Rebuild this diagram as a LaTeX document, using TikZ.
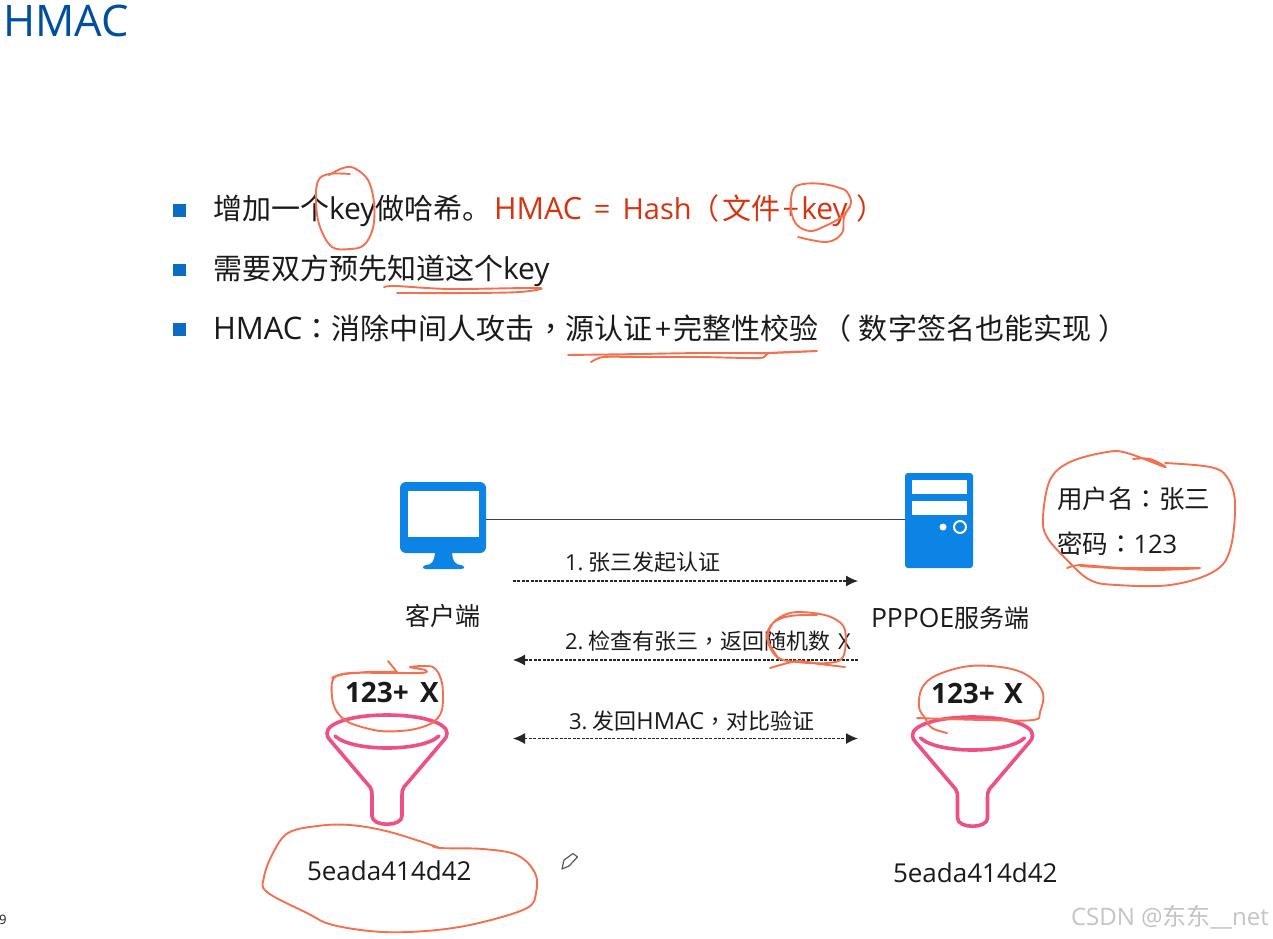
\documentclass[tikz,border=0pt]{standalone}
\usepackage{fontspec}
\usetikzlibrary{arrows.meta,calc}
\setmainfont{Open Sans}
\newfontfamily\cjsc{Noto Sans CJK SC}
\newfontfamily\cjtc{Noto Sans CJK TC}
\newcommand{\cj}[1]{{\cjsc #1}}
\newcommand{\pn}[1]{{\cjtc #1}}
\newcommand{\fsz}[1]{\fontsize{#1}{#1}\selectfont}
\definecolor{titleblue}{HTML}{004F9F}
\definecolor{bulletblue}{HTML}{0A6CC4}
\definecolor{iconblue}{HTML}{0B84E6}
\definecolor{inkred}{HTML}{F4704F}
\definecolor{redtext}{HTML}{D8330F}
\definecolor{funnelpink}{HTML}{EE4F85}
\definecolor{textblack}{HTML}{1A1A1A}
\definecolor{wmgrey}{HTML}{C4C4C4}
\tikzset{
  txt/.style={inner sep=0pt,outer sep=0pt,anchor=west,text=textblack},
  bigtxt/.style={txt,font=\fsz{29}},
  lab/.style={txt,font=\fsz{22}},
  midtxt/.style={txt,font=\fsz{25.5}},
  bul/.style={fill=bulletblue,minimum size=12.5pt,inner sep=0pt,outer sep=0pt},
  ink/.style={draw=inkred,line width=1.9pt,line cap=round,line join=round},
  link/.style={draw=black!85,line width=1.2pt,dash pattern=on 3pt off 1.4pt},
  tipped/.style={-{Latex[length=12pt,width=11pt]}},
  bitipped/.style={{Latex[length=12pt,width=11pt]}-{Latex[length=12pt,width=11pt]}},
  funnelline/.style={draw=funnelpink,line width=3.6pt,line join=round,line cap=round},
}
\newcommand{\funnelat}[2]{%
  \begin{scope}[shift={(#1,#2)}]
    \draw[funnelline] (-60,18) .. controls (-60,8) and (-35,0) .. (0,0)
      .. controls (35,0) and (60,8) .. (60,18)
      .. controls (60,21) and (59,23) .. (57,25)
      -- (17,72) .. controls (15,75) and (15,77) .. (15,80) -- (15,101)
      .. controls (15,112) and (-15,112) .. (-15,101) -- (-15,80)
      .. controls (-15,77) and (-15,75) .. (-17,72)
      -- (-57,25) .. controls (-59,23) and (-60,21) .. (-60,18) -- cycle;
    \draw[funnelline] (-52,21) .. controls (-35,37) and (35,37) .. (52,21);
  \end{scope}}
\begin{document}
\begin{tikzpicture}[x=1pt,y=-1pt]
\useasboundingbox (0,0) rectangle (1273,938);
\fill[white] (0,0) rectangle (1273,938);

\node[txt,font=\fsz{43.5},text=titleblue] (title) at (3,21) {HMAC};

\node[bul] (b1) at (179.5,210.5) {};
\node[bul] (b2) at (179.5,270) {};
\node[bul] (b3) at (179.5,329.5) {};
\node[bigtxt] (l1a) at (213,211) {\cj{增加一个}{\fsz{30}key}\cj{做哈希。}};
\node[bigtxt,text=redtext] (l1b) at (494,211) {{\fsz{30.5}HMAC}\hspace{12pt}=\hspace{12pt}Hash\hspace{-1pt}\pn{（}\hspace{3pt}\cj{文件}\hspace{2pt}+\hspace{2pt}{\fsz{30}key}\hspace{9pt}\pn{）}};
\node[bigtxt] (l2) at (213,271) {\cj{需要双方预先知道这个}{\fsz{30}key}};
\node[bigtxt] (l3) at (213,328) {{\fsz{31}HMAC}\pn{：}\cj{消除中间人攻击}\hspace{2pt}\pn{，}\cj{源认证}\hspace{2.5pt}+\hspace{2.5pt}\cj{完整性校验}\hspace{4pt}\pn{（}\hspace{7pt}\cj{数字签名也能实现}\hspace{7pt}\pn{）}};

% client icon
\node[fill=iconblue,rounded corners=6pt,minimum width=86pt,minimum height=71pt,inner sep=0pt,outer sep=0pt] (client) at (443,517.5) {};
\node[fill=white,minimum width=71pt,minimum height=46pt,inner sep=0pt] (screen) at (443.5,514) {};
\fill[iconblue] (435,550) -- (452,550) .. controls (452,562) and (456,565) .. (461,565)
  .. controls (465,566) and (465,569) .. (461,569) -- (426,569)
  .. controls (422,569) and (422,566) .. (426,565) .. controls (431,565) and (435,562) .. (435,550) -- cycle;
% server icon
\node[fill=iconblue,rounded corners=3pt,minimum width=68pt,minimum height=95pt,inner sep=0pt,outer sep=0pt] (server) at (939,520.5) {};
\node[fill=white,minimum width=55pt,minimum height=14pt,inner sep=0pt] (bar1) at (939.5,487) {};
\node[fill=white,minimum width=55pt,minimum height=14pt,inner sep=0pt] (bar2) at (939.5,508) {};
\node[circle,fill=white,minimum size=7pt,inner sep=0pt] (led) at (943,527) {};
\node[circle,draw=white,line width=2pt,fill=iconblue,minimum size=12pt,inner sep=0pt] (ring) at (960,527) {};

\draw[draw=black!75,line width=1.6pt] ([yshift=-2pt]client.east) -- ([yshift=1pt]server.west);

\node[midtxt,font=\fsz{25}] (clab) at (405,616) {\cj{客户端}};
\node[midtxt,font=\fsz{25}] (slab) at (871,618) {{\fsz{26.5}PPPOE}\cj{服务端}};
\node[midtxt] (user) at (1057,499) {\cj{用户名}\pn{：}\cj{张三}};
\node[midtxt] (pass) at (1057,544) {\cj{密码}\pn{：}123};

\coordinate (a1l) at (513,581); \coordinate (a1r) at (858,581);
\coordinate (a2l) at (513,660); \coordinate (a2r) at (858,660);
\coordinate (a3l) at (513,738.5); \coordinate (a3r) at (858,738.5);
\draw[link,tipped] (a1l) -- (a1r);
\draw[link,tipped] (a2r) -- (a2l);
\draw[link,bitipped] (a3l) -- (a3r);
\node[lab] (m1) at (565,562) {1.\hspace{5pt}\cj{张三发起认证}};
\node[lab] (m2) at (565,641) {2.\hspace{5pt}\cj{检查有张三}\pn{，}\cj{返回随机数}\hspace{2pt} X};
\node[lab] (m3) at (569,721) {3.\hspace{5pt}\cj{发回}{\fsz{23.5}HMAC}\pn{，}\cj{对比验证}};

\node[txt,font=\bfseries\fsz{28}] (p1) at (345,692) {123+\hspace{4pt} X};
\node[txt,font=\bfseries\fsz{28}] (p2) at (931,693) {123+\hspace{2pt} X};
\funnelat{387}{715}
\funnelat{972.5}{717}
\node[txt,font=\fsz{26}] (h1) at (307,871) {5eada414d42};
\node[txt,font=\fsz{26}] (h2) at (893,873) {5eada414d42};

\node[txt,font=\fsz{13}] (page) at (-1,920) {9};
\node[txt,font=\fsz{24},text=wmgrey] (wm) at (1071,917) {CSDN @\cj{东东}\_\_net};

% pencil cursor
\draw[draw=black!65,fill=white,line width=1.2pt,line join=round] (562,869) -- (564,860) -- (573,853.5) -- (577.5,857) -- (569,866) -- cycle;

% hand-drawn ink
\draw[ink] plot[smooth,tension=0.6] coordinates {(350,174) (329,174) (318,181) (316,203) (320,227) (332,247) (350,249) (364,245) (373,228) (374,203) (368,180) (354,168) (343,168) (329,175)};
\draw[ink] plot[smooth,tension=0.5] coordinates {(384,287) (396,286) (450,289) (539,288) (520,292) (470,293) (397,293)};
\draw[ink] plot[smooth,tension=0.4] coordinates {(568,355) (640,354) (700,353) (770,353) (817,351) (770,353) (760,358) (700,357) (640,357) (603,357) (591,362)};
\draw[ink] plot[smooth,tension=0.6] coordinates {(798,237) (827,242) (842,233) (844,217) (851,203) (847,192) (840,188) (823,184) (803,184) (793,190) (791,210) (797,225) (810,231) (823,227) (840,218) (850,207)};
\draw[ink] plot[smooth,tension=0.6] coordinates {(817,615) (790,616) (773,623) (767,638) (777,657) (797,662) (827,663) (843,657) (845,630) (833,618) (813,613) (790,613) (773,623) (768,640) (779,659)};
\draw[ink] plot[smooth,tension=0.4] coordinates {(770,668) (797,661) (820,664) (845,667)};
\draw[ink] plot[smooth,tension=0.6] coordinates {(1133,459) (1150,459) (1165,467) (1127,453) (1107,452) (1070,462) (1050,480) (1043,517) (1047,537) (1067,560) (1090,580) (1117,585) (1170,585) (1213,572) (1230,550) (1235,503) (1227,477) (1210,467) (1165,463)};
\draw[ink] plot[smooth,tension=0.4] coordinates {(1067,568) (1080,565) (1123,568) (1200,568) (1150,570) (1080,566)};
\draw[ink] plot[smooth,tension=0.5] coordinates {(332,678) (350,673) (420,673) (425,670) (410,667) (433,667) (442,683) (442,710) (432,723) (410,730) (380,731) (350,723) (337,712) (332,697) (335,677) (367,672) (397,672)};
\draw[ink] (397,672) -- (388,661);
\draw[ink] plot[smooth,tension=0.6] coordinates {(432,845) (440,848) (483,849) (517,855) (535,873) (536,893) (527,908) (483,922) (437,930) (383,932) (333,925) (307,913) (267,892) (264,877) (273,853) (288,833) (317,826) (350,825) (390,832) (440,848)};
\draw[ink] plot[smooth,tension=0.6] coordinates {(947,733) (932,728) (925,718) (919,707) (922,688) (937,675) (970,666) (1007,668) (1030,677) (1043,693) (1040,712) (1033,720) (983,720) (917,718)};
\end{tikzpicture}
\end{document}
